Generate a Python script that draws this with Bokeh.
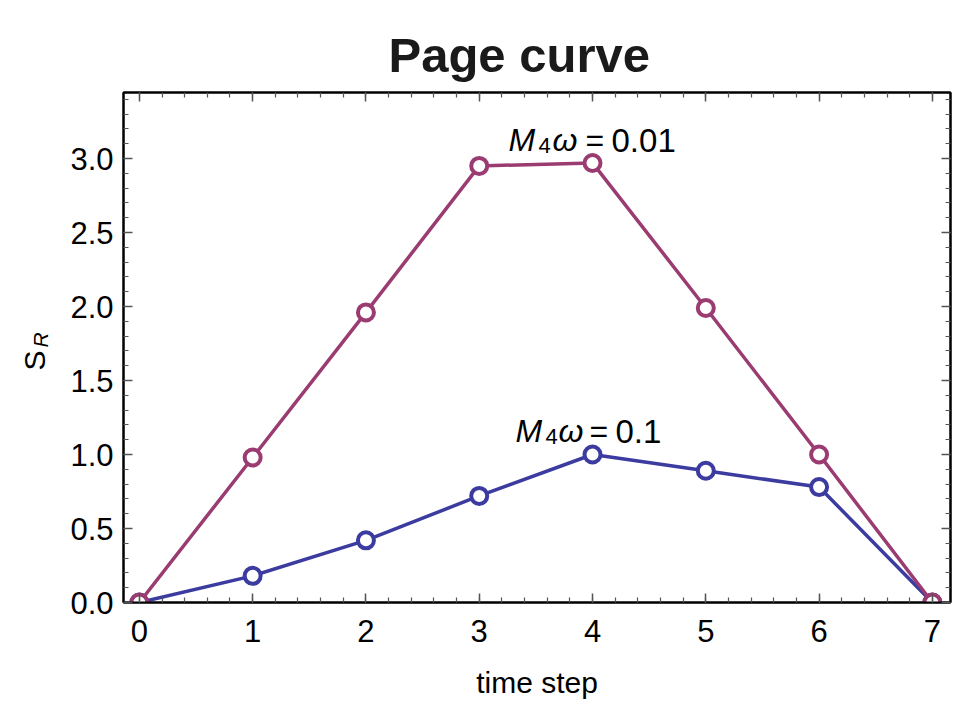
import math
from bokeh.plotting import figure
from bokeh.layouts import row
from bokeh.models import Range1d, LinearAxis, FixedTicker, Label, CustomJSTickFormatter
from bokeh.embed import file_html
from bokeh.resources import INLINE

# ---- data ----
time_step = [0, 1, 2, 3, 4, 5, 6, 7]
s_r_w001 = [0.0, 0.98, 1.96, 2.95, 2.97, 1.99, 1.00, 0.0]
s_r_w01 = [0.0, 0.18, 0.42, 0.72, 1.00, 0.89, 0.78, 0.0]
x_major = [0, 1, 2, 3, 4, 5, 6, 7]
y_major = [0.0, 0.5, 1.0, 1.5, 2.0, 2.5, 3.0]
x_minor = [round(-0.2 + 0.2 * i, 2) for i in range(38)]
y_minor = [round(0.1 * i, 2) for i in range(35)]
title_text = "Page curve"
x_label = "time step"
y_label_main = "S"
y_label_sub = "R"

MAG = "#9A3C71"
BLUE = "#3B3BA0"
FONT = "Liberation Sans"
LABEL_W = 60

p = figure(frame_width=827, frame_height=510, output_backend="svg", toolbar_location=None,
           x_range=Range1d(-0.14, 7.16), y_range=Range1d(0, 3.446),
           x_axis_location=None, y_axis_location=None,
           min_border_left=123 - LABEL_W, min_border_right=10, min_border_top=92, min_border_bottom=92,
           background_fill_color="white", border_fill_color="white")
p.xgrid.visible = False
p.ygrid.visible = False
p.outline_line_color = "black"
p.outline_line_width = 2

p.title.text = title_text
p.title.text_font = FONT
p.title.text_font_size = "49px"
p.title.text_font_style = "bold"
p.title.text_color = "#1a1a1a"
p.title.align = "left"
p.title.offset = 265
p.title.standoff = 21

bottom = LinearAxis()
left = LinearAxis()
top = LinearAxis()
right = LinearAxis()
p.add_layout(bottom, "below")
p.add_layout(left, "left")
p.add_layout(top, "above")
p.add_layout(right, "right")

for ax in [bottom, top]:
    ax.ticker = FixedTicker(ticks=x_major, minor_ticks=x_minor)
for ax in [left, right]:
    ax.ticker = FixedTicker(ticks=y_major, minor_ticks=y_minor)

for ax in [bottom, left, top, right]:
    ax.axis_line_color = "black"
    ax.axis_line_width = 2
    ax.major_tick_in = 9
    ax.major_tick_out = 0
    ax.minor_tick_in = 5
    ax.minor_tick_out = 0
    ax.major_tick_line_color = "#555555"
    ax.minor_tick_line_color = "#555555"
    ax.major_tick_line_width = 1.5
    ax.minor_tick_line_width = 1.2
    ax.major_label_text_font = FONT
    ax.major_label_text_font_size = "31px"
    ax.major_label_text_color = "black"
    ax.major_label_standoff = 10

bottom.major_label_standoff = 17

for ax in [top, right]:
    ax.formatter = CustomJSTickFormatter(code="return '';")
    ax.major_label_text_font_size = "0px"
    ax.major_label_standoff = 0
    ax.axis_label_standoff = 0

left.formatter = CustomJSTickFormatter(code="return tick.toFixed(1);")

bottom.axis_label = x_label
bottom.axis_label_text_font = FONT
bottom.axis_label_text_font_size = "30px"
bottom.axis_label_text_font_style = "normal"
bottom.axis_label_text_color = "black"
bottom.axis_label_standoff = 21

# series
p.line(time_step, s_r_w01, line_color=BLUE, line_width=3.5)
p.scatter(time_step, s_r_w01, size=16, fill_color="white", line_color=BLUE, line_width=4)
p.line(time_step, s_r_w001, line_color=MAG, line_width=3.5)
p.scatter(time_step, s_r_w001, size=16, fill_color="white", line_color=MAG, line_width=4)


def annot(xd, yd, offs, val):
    parts = [("M", "32px", "italic", 10), ("4", "22px", "normal", 5), ("\u03c9", "32px", "italic", 10),
             ("=", "32px", "normal", 10), (val, "33px", "normal", 10)]
    for (txt, fs, st, dy), dx in zip(parts, offs):
        p.add_layout(Label(x=xd, y=yd, x_offset=dx, y_offset=dy, text=txt, text_font=FONT,
                           text_font_size=fs, text_font_style=st, text_color="black",
                           text_align="left", text_baseline="alphabetic"))


annot(4, 3.056, [-84, -54, -40, -7, 19], "0.01")
annot(4, 1.09, [-77, -47, -34, -3, 23], "0.1")

# narrow side figure holding the y-axis label S_R
lab = figure(width=LABEL_W, height=695, output_backend="svg", toolbar_location=None,
             x_range=Range1d(0, LABEL_W), y_range=Range1d(0, 695),
             x_axis_location=None, y_axis_location=None, min_border=0,
             background_fill_color="white", border_fill_color="white")
lab.xgrid.visible = False
lab.ygrid.visible = False
lab.outline_line_color = None
lab.add_layout(Label(x=34, y=226, x_units="screen", y_units="screen", text=y_label_main, angle=math.pi / 2,
                     text_font=FONT, text_font_size="30px", text_color="black",
                     text_align="left", text_baseline="alphabetic"))
lab.add_layout(Label(x=40, y=249, x_units="screen", y_units="screen", text=y_label_sub, angle=math.pi / 2,
                     text_font=FONT, text_font_size="21px", text_font_style="italic", text_color="black",
                     text_align="left", text_baseline="alphabetic"))

layout = row(lab, p, spacing=0)
open("out.html", "w").write(file_html(layout, INLINE))
